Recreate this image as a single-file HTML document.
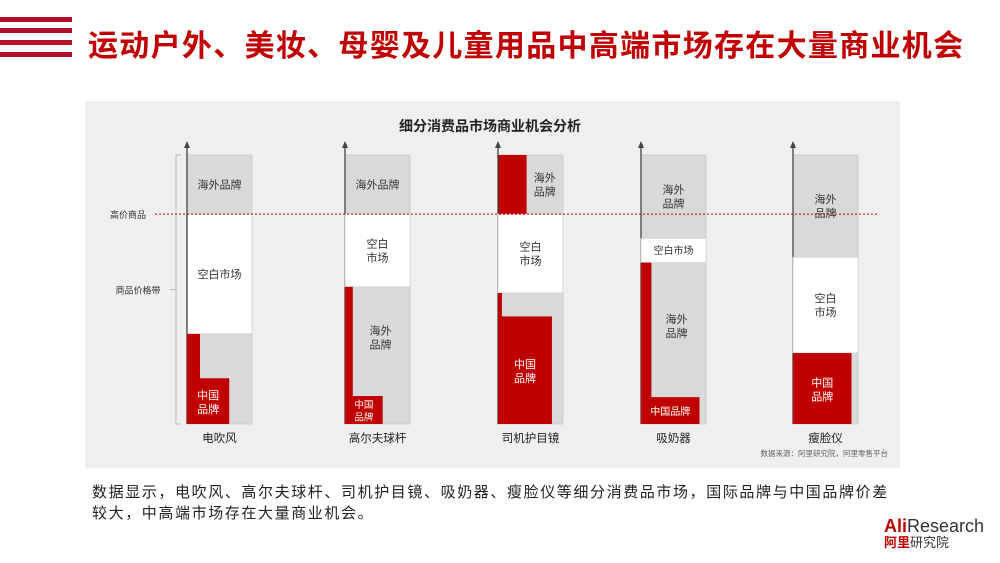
<!DOCTYPE html>
<html><head><meta charset="utf-8">
<style>
body{margin:0;width:1000px;height:563px;background:#fff;overflow:hidden;position:relative;font-family:"Liberation Sans","Noto Sans CJK SC",sans-serif;}
.stripe{position:absolute;left:0;width:72px;height:5px;background:#b0102a;}
#title{position:absolute;left:88px;top:21px;font-size:30px;font-weight:bold;color:#c00000;letter-spacing:1.3px;white-space:nowrap;}
#panel{position:absolute;left:85px;top:101px;width:815px;height:367px;background:#efefef;}
#desc{position:absolute;left:92px;top:482px;font-size:15px;letter-spacing:1.6px;color:#222;line-height:21px;width:805px;}
#logo{position:absolute;left:884px;top:517px;}
</style></head><body>
<div class="stripe" style="top:17px"></div>
<div class="stripe" style="top:28px"></div>
<div class="stripe" style="top:40px"></div>
<div class="stripe" style="top:52px"></div>
<div id="title">运动户外、美妆、母婴及儿童用品中高端市场存在大量商业机会</div>
<div id="panel"></div>
<svg id="chart" width="1000" height="563" style="position:absolute;left:0;top:0">
<text x="490" y="131" text-anchor="middle" font-size="14" font-weight="bold" fill="#222">细分消费品市场商业机会分析</text>
</svg>
<div id="desc">数据显示，电吹风、高尔夫球杆、司机护目镜、吸奶器、瘦脸仪等细分消费品市场，国际品牌与中国品牌价差较大，中高端市场存在大量商业机会。</div>
<div id="logo">
<div style="font-size:18px;line-height:18px;color:#333"><b style="color:#c00000">Ali</b>Research</div>
<div style="font-size:13px;line-height:15px;color:#333"><b style="color:#c00000">阿里</b>研究院</div>
</div>
<script>
const categories=["电吹风","高尔夫球杆","司机护目镜","吸奶器","瘦脸仪"];
const whiteTop=[78,78,78,69,62];
const whiteBottom=[33.5,51,48.7,60,26.4];
const chinaTop=[17,10.4,40,10,26.4];
const chinaShare=[0.65,0.58,0.83,0.9,0.9];
const chinaThinShare=[0.2,0.12,0.06,0.16,0];
const premiumChinaShare=[0,0,0.44,0,0];
const premiumLine=78;
const overseasTopLabel=[["海外品牌"],["海外品牌"],["海外","品牌"],["海外","品牌"],["海外","品牌"]];
const whiteLabel=[["空白市场"],["空白","市场"],["空白","市场"],["空白市场"],["空白","市场"]];
const overseasLowLabel=[[],["海外","品牌"],[],["海外","品牌"],[]];
const chinaLabel=[["中国","品牌"],["中国","品牌"],["中国","品牌"],["中国品牌"],["中国","品牌"]];

const svg=document.getElementById('chart');
const NS='http://www.w3.org/2000/svg';
const Y0=424,Y1=155;
const y=v=>Y0-v*(Y0-Y1)/100;
const slotLeft=[187,345,498,641,793];
const barX=i=>slotLeft[i];
const BW=65;
function el(t,a){const e=document.createElementNS(NS,t);for(const k in a)e.setAttribute(k,a[k]);svg.appendChild(e);return e;}
function label(lines,cx,cy,fill,fs){
  const lh=fs+3;
  lines.forEach((s,j)=>{
    const t=el('text',{x:cx,y:cy+(j-(lines.length-1)/2)*lh+fs*0.36,'text-anchor':'middle','font-size':fs,fill:fill});
    
    
    t.textContent=s;
  });
}
el('path',{d:`M181 ${y(100)} H176 V${Y0} H181 M176 ${(y(100)+Y0)/2} H170`,stroke:'#bbb',fill:'none','stroke-width':1});
let t=el('text',{x:128,y:y(premiumLine)+4,'text-anchor':'middle','font-size':9,fill:'#333'});
t.textContent='高价商品';
t=el('text',{x:138,y:(y(100)+Y0)/2+4,'text-anchor':'middle','font-size':9,fill:'#333'});
t.textContent='商品价格带';

categories.forEach((c,i)=>{
  const x=barX(i);
  const r=el('rect',{x:x,y:y(100),width:BW,height:Y0-y(100),fill:'#d9d9d9',stroke:'#c8c8c8','stroke-width':0.8});
  
  if(premiumChinaShare[i]>0){
    const p=el('rect',{x:x,y:y(100),width:BW*premiumChinaShare[i],height:y(premiumLine)-y(100),fill:'#c00000'});
    
  }
  const ax=el('line',{x1:x,y1:143,x2:x,y2:Y0,stroke:'#444','stroke-width':1.3});
  
  const ah=el('path',{d:`M${x-3} 148 L${x} 141 L${x+3} 148 Z`,fill:'#444'});
  
  const w=el('rect',{x:x,y:y(whiteTop[i]),width:BW,height:y(whiteBottom[i])-y(whiteTop[i]),fill:'#fff',stroke:'#d0d0d0','stroke-width':0.8});
  
  if(i===0){
    el('line',{x1:x,y1:y(whiteTop[i]),x2:x,y2:y(whiteBottom[i]),stroke:'#444','stroke-width':1.3});
  }
  if(chinaThinShare[i]>0){
    const th=el('rect',{x:x,y:y(whiteBottom[i]),width:BW*chinaThinShare[i],height:Y0-y(whiteBottom[i]),fill:'#c00000'});
    
  }
  const cr=el('rect',{x:x,y:y(chinaTop[i]),width:BW*chinaShare[i],height:Y0-y(chinaTop[i]),fill:'#c00000'});
  
  const offTop=premiumChinaShare[i]>0?BW*premiumChinaShare[i]/2:0;
  label(overseasTopLabel[i],x+BW/2+offTop,(y(100)+y(whiteTop[i]))/2,'#333',11);
  label(whiteLabel[i],x+BW/2,(y(whiteTop[i])+y(whiteBottom[i]))/2,'#333',i===3?10:11);
  if(overseasLowLabel[i].length) label(overseasLowLabel[i],x+BW/2+3,(y(whiteBottom[i])+y(chinaTop[i]))/2-4,'#333',11);
  const fs=(chinaTop[i]<12)?(i===3?10:9.5):11;
  label(chinaLabel[i],x+BW*chinaShare[i]/2,(y(chinaTop[i])+Y0)/2+1,'#fff',fs);
  const cl=el('text',{x:x+BW/2,y:442,'text-anchor':'middle','font-size':11.5,fill:'#222'});
  cl.textContent=c;
});
const dl=el('line',{x1:155,y1:y(premiumLine),x2:877,y2:y(premiumLine),stroke:'#c00000','stroke-width':1,'stroke-dasharray':'2,2'});

t=el('text',{x:888,y:456,'text-anchor':'end','font-size':7.5,fill:'#666'});
t.textContent='数据来源：阿里研究院，阿里零售平台';
</script>
</body></html>
